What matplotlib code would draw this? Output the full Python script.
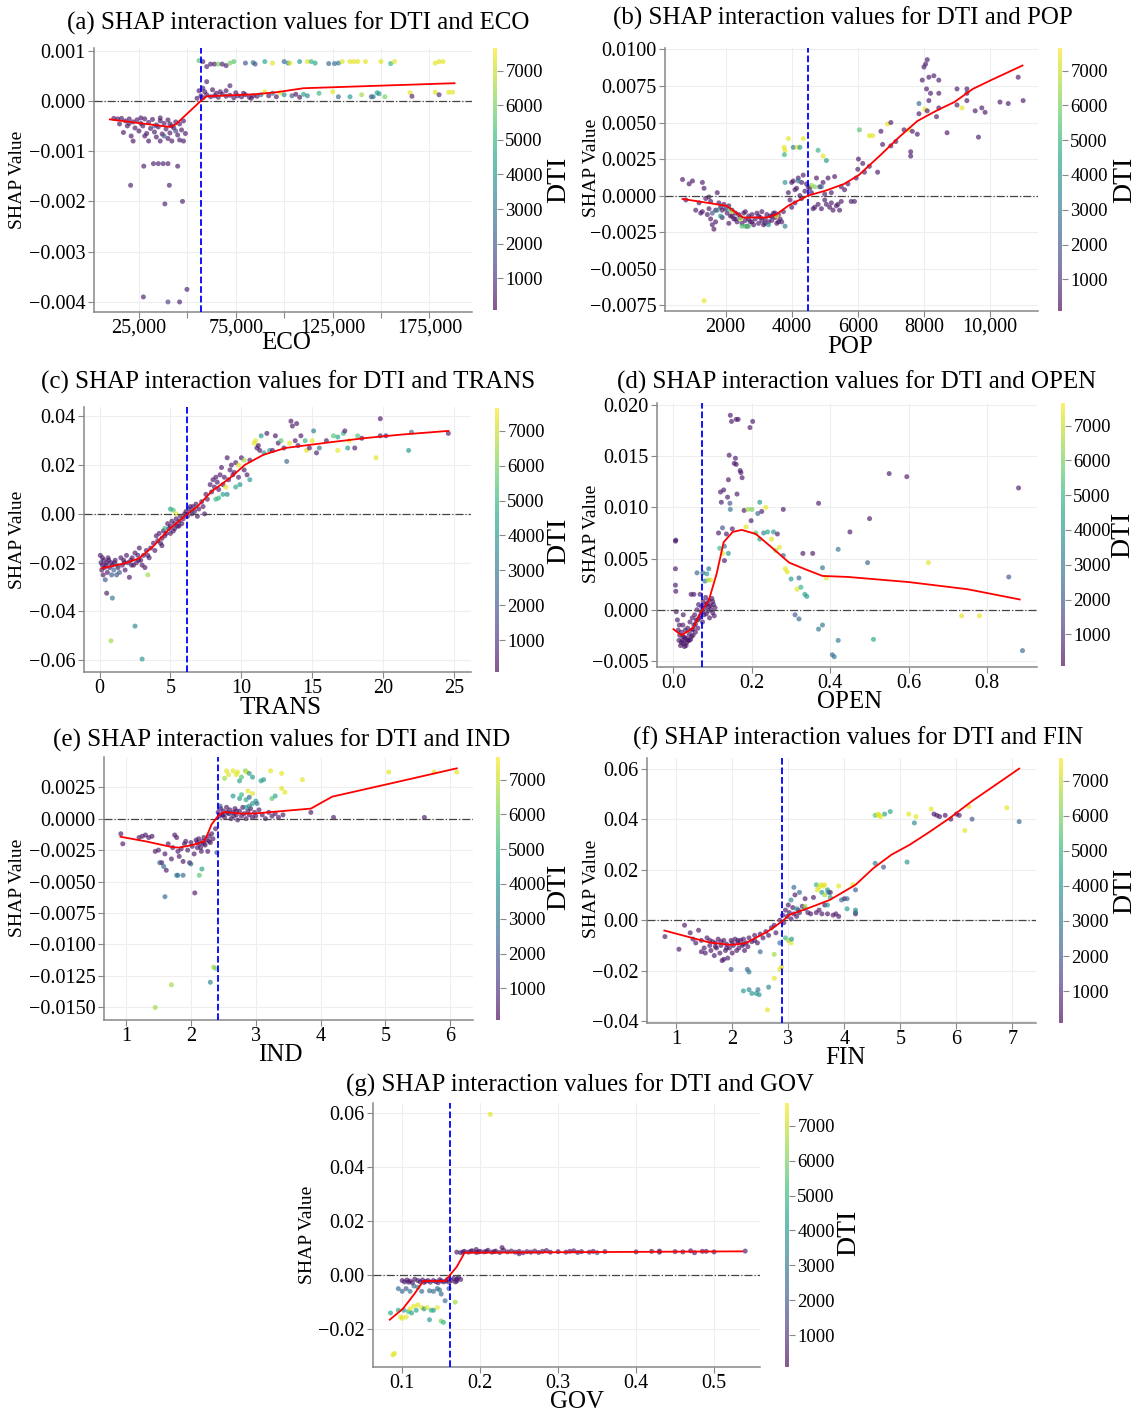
import numpy as np
import matplotlib
matplotlib.use('Agg')
import matplotlib.pyplot as plt
from matplotlib.colors import Normalize
from matplotlib.cm import ScalarMappable

plt.rcParams['font.family'] = ['Liberation Serif', 'DejaVu Serif']
plt.rcParams['axes.unicode_minus'] = True

W, H = 1139, 1415

# ---------------- datos: (valor, SHAP escalado, DTI) ----------------
# (a) ECO, SHAP en unidades de 1e-4
eco_pts = [
    (12000, -3.5, 500), (14000, -3.6, 500), (16000, -3.5, 500), (18000, -4.0, 500), (20000, -3.6, 500),
    (22000, -4.2, 500), (24000, -3.8, 500), (26000, -4.5, 500), (28000, -3.6, 500), (30000, -4.3, 500),
    (32000, -3.7, 500), (34000, -4.8, 500), (36000, -4.0, 500), (38000, -4.5, 500), (40000, -3.8, 500),
    (42000, -5.0, 500), (44000, -4.2, 500), (46000, -4.6, 500), (48000, -4.0, 500),
    (15000, -4.6, 500), (19000, -5.0, 500), (23000, -5.4, 500), (27000, -5.0, 500), (31000, -5.5, 500),
    (35000, -5.2, 500), (39000, -5.6, 500), (43000, -5.4, 500), (47000, -5.8, 500),
    (25000, -6.0, 500), (29000, -6.5, 500), (33000, -6.2, 500), (37000, -6.6, 500), (41000, -6.4, 500),
    (45000, -6.8, 500), (49000, -6.5, 500), (17000, -6.3, 500),
    (21000, -7.0, 500), (28000, -7.0, 500), (34000, -7.2, 500), (40000, -7.5, 500), (46000, -7.8, 500),
    (22000, -8.0, 500), (30000, -8.0, 500), (36000, -8.0, 500), (42000, -8.0, 500), (48000, -8.0, 500),
    (38000, -7.0, 2000), (33000, -5.0, 2500), (44000, -6.0, 1500), (20000, -4.5, 800), (26000, -3.4, 500),
    (36000, -3.4, 500), (41000, -4.6, 500),
    (27500, -13.0, 600), (32500, -12.5, 600), (35000, -12.5, 600), (37500, -12.5, 600), (40000, -12.5, 600),
    (45000, -13.0, 600), (20700, -16.8, 600), (40700, -16.8, 600), (38400, -20.5, 600), (47500, -20.0, 600),
    (49800, -37.5, 600), (27300, -39.0, 600), (40000, -40.0, 1500), (46000, -40.0, 600),
    (55000, 0.5, 500), (57000, 1.0, 500), (58000, 0.6, 500), (60000, 1.2, 500), (62000, 0.8, 500),
    (64000, 1.0, 500), (66000, 0.7, 500), (68000, 1.3, 500), (70000, 0.9, 500), (72000, 1.1, 500),
    (74000, 0.6, 500), (76000, 1.0, 500), (78000, 0.8, 500), (80000, 1.2, 500), (82000, 0.7, 500),
    (84000, 1.0, 500), (86000, 0.9, 500),
    (56000, 2.0, 500), (59000, 1.8, 500), (63000, 2.2, 500), (67000, 1.8, 500), (70000, 2.0, 500),
    (58000, 2.5, 500), (72000, 3.0, 800), (60000, 3.8, 600), (65000, 1.5, 500), (75000, 1.6, 500),
    (79000, 1.5, 500), (83000, 0.5, 500),
    (88000, 1.2, 3000), (90000, 1.8, 7300), (92000, 1.0, 500), (94000, 1.5, 2500), (96000, 0.8, 500),
    (98000, 1.6, 7300), (100000, 1.2, 3500), (104000, 1.0, 2000), (106000, 1.3, 500), (108000, 0.7, 500),
    (110000, 1.3, 4500), (112000, 1.0, 3500), (118000, 1.5, 5000), (125000, 1.8, 7300), (128000, 0.8, 2500),
    (134000, 0.8, 4000), (140000, 1.2, 6500), (145000, 0.8, 2000), (146000, 0.8, 3000), (148000, 1.6, 4500),
    (149000, 1.4, 4000), (152000, 0.8, 6000), (165000, 1.6, 7300), (166000, 0.9, 800), (178000, 1.7, 7300),
    (180000, 1.2, 800), (185000, 1.7, 7300), (187000, 1.7, 7300),
    (56000, 8.0, 5500), (58000, 7.8, 600), (60000, 6.8, 600), (62000, 7.3, 600), (64000, 7.3, 600),
    (66000, 7.3, 6000), (68000, 7.3, 600), (70000, 7.0, 600), (72000, 7.5, 6000), (74000, 7.8, 5500),
    (80000, 7.5, 2000), (84000, 7.6, 3000), (85000, 7.3, 2000), (90000, 7.8, 4500), (94000, 7.5, 7300),
    (100000, 7.8, 2500), (102000, 7.5, 3500), (103000, 7.5, 7300), (108000, 7.8, 4000), (112000, 7.8, 7300),
    (114000, 7.8, 5000), (116000, 7.5, 4500), (123000, 7.4, 2500), (126000, 7.4, 2500), (128000, 7.5, 3000),
    (130000, 7.8, 7300), (134000, 7.8, 7300), (136000, 7.8, 7300), (138000, 7.8, 7300), (142000, 7.8, 7300),
    (150000, 7.8, 7300), (155000, 7.4, 5000), (157000, 7.8, 7300), (178000, 7.5, 7300), (180000, 7.8, 7300),
    (182000, 7.8, 7300),
]
eco_trend_x = [10000, 41000, 44000, 57000, 60000, 85000, 96000, 110000, 188000]
eco_trend_y = [-3.7, -5.2, -4.7, 0.0, 0.9, 1.3, 1.7, 2.5, 3.5]

# (b) POP, SHAP en 1e-3
pop_pts = [
    (700, 1.1, 500), (800, -0.3, 500), (900, 0.8, 500), (1000, 1.0, 500), (1100, -1.0, 500),
    (1200, -0.5, 500), (1300, 0.9, 500), (1350, 0.5, 500), (1400, -0.2, 500), (1450, -1.3, 500),
    (1500, -0.9, 500), (1550, -1.6, 500), (1600, -2.0, 500), (1650, -2.3, 500), (1700, -1.0, 500),
    (1750, 0.2, 500), (1800, -0.5, 500), (1850, -0.8, 500), (1900, -1.0, 500), (1950, -0.6, 500),
    (2000, -0.9, 500), (2050, -1.2, 500), (2100, -0.7, 500), (2150, -1.4, 500), (2200, -1.0, 500),
    (2250, -1.6, 500), (2300, -1.2, 500), (2350, -1.8, 500), (2400, -1.3, 500), (2450, -1.5, 500),
    (2500, -1.9, 500), (2550, -1.2, 500), (2600, -1.7, 500), (2650, -2.1, 500), (2700, -1.4, 500),
    (2750, -1.8, 500), (2800, -1.3, 500), (2850, -2.0, 500), (2900, -1.6, 500), (2950, -1.2, 500),
    (3000, -1.9, 500), (3050, -1.5, 500), (3100, -1.1, 500), (3150, -2.0, 500), (3200, -1.6, 500),
    (3250, -1.3, 500), (3300, -1.8, 500), (3350, -1.4, 500), (3400, -1.7, 500), (3450, -1.2, 500),
    (3500, -1.5, 500), (3550, -1.9, 500), (3600, -1.3, 500), (3650, -1.6, 500), (3700, -1.8, 500),
    (3750, -1.1, 500),
    (1300, -1.1, 500), (1550, -0.4, 500), (1700, -1.8, 500), (1900, -1.5, 500), (2100, -1.9, 500),
    (2300, -1.6, 500), (2600, -1.1, 500), (2800, -1.8, 500), (3000, -1.4, 500), (3200, -1.9, 500),
    (3400, -1.4, 500), (3600, -1.8, 500), (1500, -0.1, 500), (1250, -1.2, 500), (2200, -1.4, 500),
    (2700, -1.6, 500), (3100, -1.7, 500), (3500, -1.2, 500),
    (1600, -1.2, 2000), (1750, -1.0, 3500), (1850, -1.4, 4000), (2500, -2.1, 5500), (2600, -2.1, 5500),
    (2700, -2.1, 5500), (3300, -2.0, 4000), (3800, -2.1, 3000), (2200, -1.1, 7000), (2450, -1.6, 6500),
    (2100, -0.9, 5000), (3550, -1.4, 7300),
    (3900, 0.2, 500), (3950, -0.3, 500), (4000, 0.9, 500), (4050, 1.0, 500), (4100, -0.5, 500),
    (4150, 0.5, 500), (4200, 1.2, 500), (4250, 0.0, 500), (4300, -0.2, 500), (4350, 1.4, 500),
    (4400, 0.3, 500), (4450, 0.8, 500), (4500, 0.6, 500), (4550, 0.5, 500), (4600, 0.2, 500),
    (4650, -0.9, 500), (4700, -0.8, 500), (4750, 1.2, 500), (4800, -0.6, 500), (4850, 0.6, 500),
    (4900, -0.9, 500), (4950, 0.9, 500), (5000, -0.3, 500), (5050, -0.6, 500), (5100, 1.2, 500),
    (5150, -0.8, 500), (5200, 0.2, 500), (5250, -1.0, 500), (5300, 1.3, 500), (5350, -0.7, 500),
    (5400, -0.6, 500), (5450, -1.0, 500), (5500, -0.4, 500), (5600, 0.4, 500), (5700, 0.8, 500),
    (5800, -0.4, 500), (5900, -0.4, 500), (5950, 1.2, 500), (4000, -0.8, 500), (4100, 0.4, 500),
    (4300, 0.9, 500), (5000, 0.1, 500), (5200, -0.5, 500), (5500, 0.6, 500),
    (3770, 3.3, 7300), (3800, 3.1, 7300), (3780, 2.8, 5000), (3900, 3.9, 7300), (4050, 3.3, 3000),
    (4170, 3.3, 7300), (4250, 3.3, 4000), (4350, 3.9, 7300), (4800, 3.1, 5000), (4950, 2.7, 7300),
    (5050, 2.4, 4000), (4600, 0.7, 6500), (4700, 0.6, 6000), (4900, 0.6, 3000), (3800, 0.9, 4000),
    (4200, 1.0, 3000),
    (6000, 1.8, 500), (6020, 2.5, 500), (6050, 4.5, 5500), (6150, 2.2, 500), (6200, 1.6, 500),
    (6350, 2.0, 500), (6350, 4.1, 7300), (6450, 4.1, 7300), (6600, 1.6, 500), (6700, 4.4, 500),
    (6750, 3.5, 500), (6900, 4.9, 7300), (7000, 3.4, 500), (7000, 5.0, 500), (7150, 3.7, 500),
    (7400, 4.5, 500), (7550, 4.5, 7300), (7600, 3.0, 500), (7600, 2.7, 500), (7650, 4.4, 500),
    (7800, 4.2, 500), (7850, 5.6, 500), (7850, 6.3, 2500), (7950, 7.9, 500), (8000, 8.8, 500),
    (8050, 9.0, 500), (8100, 9.3, 500), (8030, 5.9, 7300), (8080, 7.3, 500), (8100, 5.8, 500),
    (8150, 6.5, 500), (8150, 8.1, 500), (8200, 7.0, 500), (8300, 8.2, 500), (8380, 5.4, 500),
    (8450, 7.9, 500), (8450, 7.0, 500), (8450, 6.0, 500), (8700, 4.3, 500), (9000, 7.3, 500),
    (9000, 6.2, 500), (9150, 6.0, 7300), (9300, 7.3, 500), (9300, 7.0, 500), (9300, 6.5, 500),
    (9550, 5.8, 500), (9650, 4.0, 500), (9750, 6.0, 500), (9850, 5.7, 500), (10300, 6.4, 500),
    (10550, 6.3, 500), (10850, 8.1, 500), (11000, 6.5, 500), (1350, -7.2, 7300),
]
pop_trend_x = [700, 2030, 2530, 3250, 3530, 3920, 4500, 5030, 5590, 6030, 6700, 7250, 7800, 8370, 8920,
               9480, 10030, 10980]
pop_trend_y = [-0.23, -0.7, -1.5, -1.5, -1.3, -0.66, 0.0, 0.34, 0.8, 1.4, 2.8, 4.0, 5.1, 5.8, 6.4, 7.3,
               7.9, 8.9]

# (c) TRANS, SHAP en 1e-3
trans_pts = [
    (0.05, -17, 500), (0.1, -20, 500), (0.15, -23, 500), (0.2, -21, 500), (0.25, -25, 500),
    (0.3, -19, 500), (0.35, -22, 500), (0.4, -27, 2000), (0.5, -20, 500), (0.55, -24, 500),
    (0.6, -18, 500), (0.7, -22, 500), (0.8, -20, 500), (0.85, -25, 2000), (0.9, -21, 500),
    (1.0, -23, 2500), (1.1, -19, 500), (1.2, -25, 2000), (1.3, -22, 500), (1.4, -24, 2000),
    (1.5, -18, 500), (1.6, -21, 500), (1.7, -19, 500), (1.8, -23, 500), (1.9, -17, 500),
    (2.0, -20, 500), (2.1, -26, 500), (2.2, -19, 500), (2.3, -18, 500), (2.4, -21, 500),
    (2.5, -16, 500), (2.6, -20, 500), (2.7, -17, 500), (2.8, -14, 500), (2.9, -19, 500),
    (3.0, -21, 500), (3.1, -17, 500), (3.2, -22, 500), (3.3, -15, 500), (3.5, -18, 500),
    (0.2, -18, 500), (0.45, -21, 500), (0.65, -19, 500), (1.05, -20, 500), (1.25, -21, 2500),
    (1.75, -20, 500), (2.25, -21, 500), (2.75, -19, 500), (3.4, -17, 500),
    (0.5, -32.5, 500), (0.9, -34.5, 3000), (2.5, -46, 3500), (0.8, -52, 6500), (3.0, -59.5, 4000),
    (3.4, -25, 6500),
    (3.6, -14, 500), (3.8, -12, 500), (3.9, -15, 500), (4.0, -9, 500), (4.1, -11, 500),
    (4.2, -8, 500), (4.3, -12, 500), (4.4, -10, 500), (4.5, -7, 500), (4.6, -6, 5000),
    (4.7, -8, 500), (4.8, -4, 500), (4.9, -6, 500), (5.0, -5, 500), (5.1, -3, 500),
    (5.2, -7, 500), (5.3, -4, 500), (5.4, -2, 500), (5.5, -5, 500), (5.6, -3, 500),
    (5.7, -1, 500), (5.8, -4, 500), (5.9, -2, 500), (6.0, 0, 500), (6.1, 1, 500),
    (6.2, -1, 500), (6.3, 2, 500), (6.5, 0, 500), (6.6, 3, 500), (6.7, 1, 500),
    (6.8, 4, 500), (7.0, 2, 500), (7.2, 5, 500), (7.4, 0, 500), (7.5, 8, 500),
    (7.6, 6, 500), (7.8, 12, 500), (7.9, 9, 500), (8.0, 14, 500), (8.1, 11, 500),
    (8.2, 15, 500), (8.3, 13, 500), (8.4, 10, 500), (8.5, 16, 500), (8.6, 19, 500),
    (8.7, 12, 500), (8.8, 15, 500), (9.0, 23, 500), (9.1, 14, 500), (9.2, 18, 500),
    (9.3, 20, 500), (9.4, 16, 500), (9.5, 17, 500), (9.6, 21, 500), (9.8, 15, 500),
    (10.0, 23, 500), (10.2, 18, 500), (10.4, 16, 500), (10.6, 22, 500),
    (4.4, -13, 500), (4.6, -9, 500), (5.0, -8, 500), (5.3, -6, 500), (5.6, -5, 500), (6.4, 3, 500),
    (6.9, -1, 500), (7.3, 3, 500),
    (5.2, 1.5, 5500), (5.4, 0, 7300), (6.5, 1, 2500), (5.0, 2, 4500),
    (8.2, 6, 5000), (8.4, 6.5, 5000), (8.7, 8, 4500), (9.0, 8, 3500), (9.6, 11, 4500),
    (9.9, 12, 4000), (10.6, 14, 4000), (8.9, 11, 7300), (9.8, 20, 7300), (10.2, 22, 6500),
    (10.9, 29, 7300), (11.0, 30, 7300), (11.1, 27, 500), (11.2, 28, 500), (11.3, 26, 500),
    (11.4, 32, 4000), (11.6, 25, 4000), (11.8, 33, 500), (12.0, 26, 4000), (12.2, 26, 500),
    (12.4, 32, 500), (12.6, 29, 500), (12.8, 30, 5500), (13.0, 27, 500), (13.2, 21.5, 2500),
    (13.4, 29, 7300), (13.5, 38, 500), (13.6, 36, 500), (13.8, 30, 500), (13.9, 37, 500),
    (14.0, 28, 500), (14.2, 32, 500), (14.5, 30, 5000), (14.6, 26, 7300), (14.8, 27, 500),
    (15.0, 30, 7300), (15.1, 34, 3000), (15.3, 25, 500), (15.5, 27, 3000), (16.0, 30, 500),
    (16.5, 32, 5500), (16.8, 31.5, 4500), (16.8, 26, 7300), (17.2, 33, 5000), (17.3, 34, 500),
    (17.5, 27, 4000), (17.6, 30, 7300), (18.0, 27, 500), (18.2, 32, 5500), (18.5, 31, 500),
    (19.5, 23, 7300), (19.8, 32, 500), (20.2, 32, 500), (19.8, 39, 500), (21.8, 26, 4000),
    (22.0, 33.5, 3000), (24.6, 33, 500),
]
trans_trend_x = [0.15, 1.75, 2.8, 3.8, 4.85, 6.2, 6.9, 7.9, 9.2, 10.25, 11.55, 13.1, 16.2, 18.8, 21.3, 24.6]
trans_trend_y = [-22.3, -20.3, -18.2, -13.2, -6.6, 0, 3, 9.2, 14.7, 20.1, 24.2, 27, 29.3, 31.1, 32.5, 34.0]

# (d) OPEN, SHAP en 1e-3
open_pts = [
    (0.005, 6.7, 500), (0.006, 6.8, 500), (0.005, 4.0, 500), (0.005, 2.4, 500), (0.006, 1.8, 500),
    (0.007, -0.2, 500), (0.01, -1.0, 500), (0.012, -2.0, 500), (0.014, -3.0, 500), (0.016, -2.5, 500),
    (0.018, -3.5, 500), (0.02, -2.2, 500), (0.022, -3.0, 500), (0.024, -1.5, 500), (0.026, -3.3, 500),
    (0.028, -2.7, 500), (0.03, -2.0, 500), (0.032, -3.5, 500), (0.034, -2.8, 500), (0.036, -1.8, 500),
    (0.038, -3.0, 500), (0.04, -2.4, 500), (0.042, -1.2, 500), (0.044, -2.9, 500), (0.046, -2.0, 500),
    (0.048, -0.8, 500), (0.05, -2.5, 500), (0.052, -1.5, 500), (0.054, -0.5, 500), (0.056, -2.2, 500),
    (0.058, -1.0, 500), (0.06, 0.0, 500), (0.062, -1.8, 500), (0.064, 0.5, 500), (0.066, -0.8, 500),
    (0.068, 1.5, 500), (0.07, -0.2, 500), (0.072, 0.3, 500), (0.074, -1.2, 500), (0.076, 0.8, 500),
    (0.078, -0.5, 500), (0.08, 0.2, 500), (0.082, 1.2, 500), (0.084, -0.4, 500), (0.086, 0.6, 500),
    (0.088, -0.1, 500), (0.09, 0.9, 500), (0.092, -0.8, 500), (0.094, 0.4, 500), (0.096, 0.0, 500),
    (0.098, 1.1, 500), (0.1, -0.3, 500), (0.102, 0.5, 500), (0.104, -0.6, 500), (0.106, 0.2, 500),
    (0.025, -0.5, 500), (0.015, -1.5, 500), (0.045, 1.5, 500), (0.052, 1.5, 500),
    (0.02, -3.2, 500), (0.028, -3.6, 500), (0.034, -3.2, 500), (0.04, -3.0, 500), (0.046, -2.6, 500),
    (0.03, -2.9, 500), (0.024, -2.6, 500), (0.05, -1.9, 500), (0.056, -1.4, 500), (0.062, -1.0, 500),
    (0.068, -0.6, 500), (0.074, -0.2, 500), (0.082, 0.5, 500), (0.09, 0.3, 500), (0.1, 0.8, 500),
    (0.06, 3.6, 2500), (0.075, 3.6, 2500), (0.08, 2.8, 3000), (0.085, 3.5, 4000), (0.09, 4.0, 3000),
    (0.095, 2.9, 7300), (0.088, 2.9, 6500),
    (0.115, 7.5, 500), (0.118, 6.0, 5000), (0.12, 11.5, 500), (0.122, 10.5, 500), (0.125, 8.0, 2000),
    (0.125, 5.5, 7300), (0.128, 11.7, 500), (0.13, 6.2, 3000), (0.13, 4.8, 500), (0.135, 7.4, 500),
    (0.138, 11.0, 500), (0.14, 5.5, 4000), (0.14, 12.7, 500), (0.142, 15.1, 500), (0.144, 10.4, 2000),
    (0.145, 9.8, 3000), (0.145, 19.0, 500), (0.148, 18.4, 500), (0.15, 7.9, 500), (0.155, 14.3, 500),
    (0.158, 14.8, 500), (0.16, 14.2, 500), (0.16, 18.6, 500), (0.162, 11.3, 500), (0.165, 18.6, 500),
    (0.17, 13.6, 500), (0.172, 13.4, 500), (0.175, 12.9, 500), (0.18, 9.7, 500), (0.185, 8.1, 7300),
    (0.19, 9.8, 6500), (0.195, 17.8, 500), (0.198, 8.7, 500), (0.2, 9.8, 6000), (0.202, 18.4, 500),
    (0.21, 7.5, 5500), (0.215, 9.4, 2500), (0.22, 10.5, 4000), (0.22, 6.9, 4500), (0.225, 9.6, 500),
    (0.23, 7.5, 3500), (0.235, 10.0, 7300), (0.24, 7.6, 4500), (0.25, 6.9, 7300), (0.255, 7.6, 4000),
    (0.26, 5.8, 6500), (0.265, 7.4, 500), (0.27, 6.1, 7300), (0.28, 9.8, 500), (0.28, 5.3, 2500),
    (0.285, 4.0, 7300), (0.29, 3.7, 7300), (0.3, 3.0, 4000), (0.31, -0.5, 2000), (0.315, 2.0, 7300),
    (0.32, -0.9, 2500), (0.32, 3.1, 2500), (0.325, 2.2, 5000), (0.33, 5.5, 500), (0.335, 1.5, 4500),
    (0.34, 1.3, 4000), (0.355, 5.5, 500), (0.37, -1.9, 3000), (0.37, 10.4, 500), (0.38, -1.5, 3000),
    (0.38, 4.1, 3000), (0.39, 3.1, 7300), (0.405, -4.4, 2500), (0.41, -4.6, 3000), (0.42, -3.0, 3000),
    (0.42, 5.9, 3000), (0.45, 7.6, 500), (0.495, 4.6, 2500), (0.5, 8.9, 500), (0.51, -2.9, 4500),
    (0.55, 13.3, 500), (0.595, 13.0, 500), (0.65, 4.6, 7300), (0.735, -0.6, 7300), (0.78, -0.6, 7300),
    (0.855, 3.2, 2000), (0.88, 11.9, 500), (0.89, -4.0, 2500),
]
open_trend_x = [0.0, 0.02, 0.05, 0.072, 0.09, 0.11, 0.128, 0.151, 0.174, 0.21, 0.25, 0.295, 0.333, 0.38,
                0.445, 0.6, 0.75, 0.883]
open_trend_y = [-1.9, -2.5, -1.8, -0.1, 0.9, 3.5, 6.6, 7.6, 7.8, 7.4, 6.1, 4.6, 4.0, 3.3, 3.2, 2.7, 2.0, 1.0]

# (e) IND, SHAP en 1e-3
ind_pts = [
    (0.92, -1.2, 500), (0.95, -2.0, 500), (1.2, -1.5, 500), (1.25, -1.4, 500), (1.3, -1.3, 500),
    (1.35, -1.5, 500), (1.4, -1.4, 500), (1.45, -2.6, 500), (1.5, -2.5, 500), (1.55, -3.5, 500),
    (1.6, -2.8, 500), (1.65, -2.0, 500), (1.7, -3.2, 500), (1.72, -2.3, 500), (1.75, -1.3, 500),
    (1.78, -1.5, 500), (1.8, -2.6, 500), (1.82, -3.0, 500), (1.85, -2.4, 500), (1.88, -3.4, 500),
    (1.9, -2.0, 500), (1.92, -1.8, 500), (1.95, -2.5, 500), (1.98, -3.5, 500), (2.0, -1.9, 500),
    (2.02, -2.2, 500), (2.05, -2.8, 500), (2.08, -1.7, 500), (2.1, -2.3, 500), (2.12, -1.6, 500),
    (2.14, -2.0, 500), (2.16, -2.6, 500), (2.18, -1.8, 500), (2.2, -1.5, 500), (2.22, -2.1, 500),
    (2.24, -1.7, 500), (2.26, -2.6, 500), (2.28, -1.4, 500), (2.3, -1.9, 500), (2.32, -1.2, 500),
    (2.34, -1.6, 500), (2.1, -1.9, 500), (2.2, -2.0, 500), (2.28, -1.8, 500), (2.15, -2.3, 500),
    (1.62, -4.1, 500), (1.58, -3.8, 2500), (1.52, -3.5, 2000), (1.6, -6.2, 2500), (1.78, -4.5, 3000),
    (1.8, -4.5, 3000), (1.88, -4.5, 2500), (2.06, -5.9, 500), (2.13, -4.5, 5500), (2.17, -4.0, 4500),
    (2.0, -3.6, 2500), (2.35, -11.8, 6500), (2.38, -11.9, 6000), (2.3, -13.0, 3500), (1.7, -13.2, 6500),
    (1.45, -15.0, 6500), (2.4, -2.7, 2000), (2.38, -0.8, 500),
    (2.42, 0.5, 500), (2.44, 0.2, 500), (2.46, 0.8, 500), (2.48, 0.3, 500), (2.5, 0.6, 500),
    (2.52, 0.1, 500), (2.55, 0.9, 500), (2.58, 0.4, 500), (2.6, 0.7, 500), (2.62, 0.0, 500),
    (2.65, 0.5, 500), (2.68, 0.8, 500), (2.7, 0.3, 500), (2.72, -0.1, 500), (2.75, 0.6, 500),
    (2.78, 0.2, 500), (2.8, 0.9, 500), (2.82, 0.4, 500), (2.85, 0.0, 500), (2.88, 0.6, 500),
    (2.9, 0.3, 500), (2.92, 0.8, 500), (2.95, 0.1, 500), (2.98, 0.5, 500), (3.0, 0.2, 500),
    (3.05, 0.7, 500), (3.1, 0.3, 500), (3.15, 0.0, 500), (3.2, 0.5, 500), (3.25, 0.2, 500),
    (3.3, 0.4, 500), (3.35, 0.1, 500), (3.42, 0.3, 500), (3.85, 0.5, 500), (4.2, 0.1, 500),
    (5.6, 0.1, 500), (2.45, 1.0, 2000), (2.6, 0.4, 2500), (2.5, 0.3, 500), (2.7, 0.6, 500),
    (2.56, 0.5, 500), (2.66, 0.2, 500),
    (2.52, 3.2, 6500), (2.55, 3.8, 7300), (2.58, 3.5, 7300), (2.65, 3.8, 7300), (2.7, 3.5, 7300),
    (2.72, 3.7, 7300), (2.75, 3.0, 4500), (2.78, 3.3, 5500), (2.84, 3.8, 6000), (2.86, 3.7, 7300),
    (2.9, 3.6, 4000), (2.95, 3.3, 4000), (3.08, 3.0, 4500), (3.12, 3.1, 4000), (3.23, 3.8, 7300),
    (3.4, 3.6, 7300), (3.72, 3.1, 7300), (2.65, 1.8, 4000), (2.75, 1.6, 4000), (2.78, 1.9, 5000),
    (2.85, 1.5, 4500), (2.88, 2.2, 7300), (2.9, 1.7, 2500), (2.95, 2.0, 7300), (2.95, 1.2, 4000),
    (3.0, 1.4, 4000), (3.02, 1.2, 3000), (3.25, 1.6, 5500), (3.3, 1.8, 4500), (3.4, 2.4, 7300),
    (3.45, 2.1, 7300), (2.9, 1.0, 3500), (2.85, 0.9, 4000), (5.05, 3.7, 7300), (5.75, 3.7, 7300),
    (6.1, 3.7, 7300),
]
ind_trend_x = [0.915, 1.3, 1.71, 1.82, 2.02, 2.21, 2.32, 2.44, 2.52, 2.77, 3.0, 3.85, 4.18, 5.03, 6.1]
ind_trend_y = [-1.44, -1.8, -2.26, -2.3, -2.1, -1.8, -0.45, 0.35, 0.53, 0.4, 0.42, 0.8, 1.75, 2.74, 4.0]

# (f) FIN, SHAP en 1e-3
fin_pts = [
    (0.8, -6.5, 500), (1.05, -11.5, 500), (1.15, -2, 500), (1.25, -5, 500), (1.3, -7.5, 500),
    (1.35, -9, 500), (1.4, -4, 500), (1.45, -8, 500), (1.5, -11, 500), (1.52, -13, 500),
    (1.55, -7, 500), (1.6, -10, 500), (1.62, -12, 500), (1.65, -8.5, 500), (1.68, -14, 500),
    (1.7, -9, 500), (1.72, -11, 500), (1.75, -7.5, 500), (1.78, -13, 500), (1.8, -10, 500),
    (1.82, -16, 500), (1.85, -8, 500), (1.88, -12, 500), (1.9, -9.5, 500), (1.92, -15, 500),
    (1.95, -11, 500), (1.98, -8, 500), (2.0, -13, 500), (2.02, -10, 500), (2.05, -7.5, 500),
    (2.08, -12, 500), (2.1, -9, 500), (2.12, -11, 500), (2.15, -8, 500), (2.18, -10, 500),
    (2.2, -7.5, 500), (2.22, -12, 500), (2.25, -9, 500), (2.28, -10.5, 500), (2.3, -7, 500),
    (2.35, -8.5, 500), (2.4, -6, 500), (2.45, -9, 500), (2.5, -5.5, 500), (2.55, -7, 500),
    (2.6, -4.5, 500), (2.65, -6, 500), (2.7, -3, 500), (2.75, -2, 500), (2.78, -5, 500),
    (1.6, -8, 500), (1.7, -10.5, 500), (1.8, -8.5, 500), (1.9, -11, 500), (2.0, -9, 500),
    (2.1, -8, 500), (2.2, -9.5, 500), (2.4, -8, 500), (1.85, -15.5, 500), (1.45, -12.5, 500),
    (1.98, -19.5, 2000), (2.27, -19.5, 2500), (2.3, -20.5, 3000), (2.2, -28, 4000), (2.3, -27.5, 3500),
    (2.35, -29, 4000), (2.43, -29, 4000), (2.46, -27.5, 3000), (2.48, -29.5, 4000), (2.65, -26.5, 3500),
    (2.63, -35.5, 7300), (2.75, -23, 7300), (2.75, -13.5, 6500), (2.85, -19.5, 7300), (2.88, -18.5, 7300),
    (2.5, -12.5, 2500), (2.95, -7, 5000), (3.0, -8, 6500), (3.05, -9, 7300), (3.06, -7.5, 4000),
    (2.85, -9, 3000),
    (2.85, 0, 500), (2.9, 2, 500), (2.92, -1, 500), (2.95, 4, 500), (2.98, 1.5, 500),
    (3.0, 6, 500), (3.02, 3, 500), (3.05, 0.5, 500), (3.08, 5, 500), (3.1, 2.5, 500),
    (3.12, 10, 500), (3.15, 1.5, 500), (3.18, 4, 500), (3.2, 3, 500), (3.25, 5.5, 500),
    (3.3, 8.5, 500), (3.35, 3, 500), (3.4, 2.5, 500), (3.45, 9, 500), (3.5, 3, 500),
    (3.55, 4, 500), (3.6, 2.5, 500), (3.65, 6, 500), (3.7, 2.5, 500), (3.75, 11, 500),
    (3.8, 2, 500), (3.85, 2.5, 500), (3.9, 1.5, 500), (4.0, 8.5, 500), (4.2, 2.5, 500),
    (3.1, 13, 2500), (3.05, 8, 3500), (3.2, 11, 2500), (3.15, 4.5, 3500), (3.3, 4.5, 2500),
    (3.5, 14, 5000), (3.52, 12, 7300), (3.55, 13, 7300), (3.58, 14, 7300), (3.62, 13.5, 7300),
    (3.65, 14, 7300), (3.6, 11, 4000), (3.65, 10, 6500), (3.7, 12, 4000), (3.72, 11, 2500),
    (3.75, 9, 4500), (3.7, 6, 4000), (3.9, 13.5, 7300), (3.95, 8, 2500), (4.05, 8.5, 2500),
    (4.05, 4.5, 4000), (4.2, 4, 3500), (4.2, 12, 2000), (4.15, 14, 7300), (4.2, 3, 3000),
    (3.3, 5.5, 6500),
    (4.55, 22.5, 3000), (4.55, 41.5, 5500), (4.6, 42, 7300), (4.62, 41.5, 7300), (4.65, 41, 7300),
    (4.72, 42, 4500), (4.82, 43, 4500), (4.7, 21, 2000), (5.12, 23, 4000), (5.15, 42, 7300),
    (5.25, 38.5, 3500), (5.28, 41, 7300), (5.55, 44, 7300), (5.6, 42, 500), (5.65, 41.5, 500),
    (5.7, 41, 500), (5.8, 41.5, 500), (5.9, 40, 500), (6.0, 42, 500), (6.05, 41.5, 500),
    (6.15, 35.5, 7300), (6.22, 45, 7300), (6.28, 40, 2000), (6.9, 44.5, 7300), (7.12, 39, 2500),
]
fin_trend_x = [0.79, 1.59, 1.98, 2.24, 2.63, 2.89, 3.02, 3.35, 3.74, 4.2, 4.52, 4.84, 5.17, 5.49, 5.88, 6.27, 7.12]
fin_trend_y = [-4.1, -8.8, -9.8, -9.1, -4.5, -0.5, 2.1, 4.7, 8.0, 14.0, 20.6, 25.9, 29.9, 34.5, 40.4, 47.0, 60.0]

# (g) GOV, SHAP en 1e-3
gov_pts = [
    (0.1, -2, 500), (0.103, -2.5, 500), (0.106, -1.8, 500), (0.11, -2.2, 500), (0.113, -2.8, 500),
    (0.116, -1.5, 500), (0.12, -2.0, 500), (0.123, -2.5, 500), (0.126, -1.8, 500), (0.13, -2.3, 500),
    (0.133, -2.0, 500), (0.136, -2.6, 500), (0.14, -2.0, 500), (0.143, -2.4, 500), (0.146, -2.8, 500),
    (0.15, -2.1, 500), (0.153, -2.5, 500), (0.156, -2.2, 500), (0.16, -2.6, 500), (0.163, -2.0, 500),
    (0.166, -1.2, 500), (0.168, -2.5, 500), (0.17, -1.5, 500), (0.172, -0.8, 500), (0.175, -1.6, 500),
    (0.17, -2.2, 500), (0.108, -2.6, 500), (0.128, -2.7, 500), (0.148, -1.7, 500), (0.158, -1.6, 500),
    (0.095, -5, 2500), (0.1, -6, 2500), (0.105, -5, 2000), (0.11, -6, 3000), (0.115, -4, 2500),
    (0.12, -4.5, 3000), (0.125, -6, 2500), (0.14, -6, 2500), (0.145, -5, 2500), (0.15, -7, 2500),
    (0.155, -9.5, 2500), (0.16, -5, 2000), (0.148, -5.5, 3000), (0.135, -5.8, 2500),
    (0.085, -14, 4500), (0.095, -13, 4500), (0.098, -15.5, 7300), (0.1, -16, 7300), (0.102, -13, 4000),
    (0.105, -15.5, 7300), (0.108, -13.5, 5000), (0.11, -12.5, 7300), (0.112, -14, 4500), (0.115, -11.5, 7300),
    (0.118, -13, 4500), (0.12, -11, 7300), (0.125, -12, 7300), (0.128, -12.5, 4000), (0.132, -12, 7300),
    (0.135, -16.5, 4000), (0.14, -13, 4000), (0.145, -12, 7300), (0.15, -17, 6000), (0.153, -17.5, 5000),
    (0.168, -10, 6500), (0.137, -13, 5000), (0.088, -29.5, 7300), (0.09, -29, 7300), (0.213, 59.5, 7300),
    (0.17, 8.5, 500), (0.175, 8.3, 500), (0.18, 8.8, 500), (0.185, 8.5, 500), (0.19, 9.0, 500),
    (0.195, 8.4, 500), (0.2, 8.8, 500), (0.205, 8.6, 500), (0.21, 9.2, 500), (0.215, 8.5, 500),
    (0.22, 8.9, 500), (0.225, 8.4, 500), (0.23, 9.3, 500), (0.235, 8.6, 500), (0.24, 8.9, 500),
    (0.245, 8.5, 500), (0.25, 8.8, 500), (0.255, 8.3, 500), (0.26, 8.7, 500), (0.265, 8.5, 500),
    (0.27, 8.9, 500), (0.275, 8.4, 500), (0.28, 8.8, 500), (0.285, 9.1, 500), (0.29, 8.5, 500),
    (0.3, 8.7, 500), (0.31, 8.5, 500), (0.315, 8.8, 500), (0.32, 9.0, 500), (0.325, 8.4, 500),
    (0.33, 8.7, 500), (0.34, 8.5, 500), (0.345, 8.8, 500), (0.35, 8.3, 1500), (0.36, 8.7, 500),
    (0.4, 8.6, 500), (0.42, 8.8, 500), (0.43, 8.5, 500), (0.43, 8.9, 500), (0.45, 8.7, 500),
    (0.46, 8.6, 500), (0.47, 9.0, 500), (0.475, 8.3, 500), (0.485, 8.8, 500), (0.49, 8.8, 500),
    (0.5, 8.6, 500), (0.54, 8.9, 500), (0.228, 10.2, 500), (0.25, 7.9, 500), (0.195, 9.5, 500),
    (0.178, 8.6, 500), (0.188, 8.9, 500), (0.198, 8.6, 500), (0.208, 8.8, 500), (0.218, 8.7, 500),
]
gov_trend_x = [0.084, 0.101, 0.116, 0.127, 0.14, 0.155, 0.16, 0.17, 0.18, 0.536]
gov_trend_y = [-16.5, -12.4, -6.8, -2.2, -2.2, -2.2, -0.4, 3.1, 8.3, 8.8]

# ---------------- configuración de paneles (posiciones en px) ----------------
paneles = [
    dict(pts=eco_pts, esc=1e-4, tx=eco_trend_x, ty=eco_trend_y, umbral=57000, var='ECO', letra='a',
         ax=(94, 48, 472, 312), cb=(493, 48, 497, 310), xlim=(1800, 197000), ylim=(-0.0042, 0.00105),
         xt=[25000, 50000, 75000, 100000, 125000, 150000, 175000],
         xtl=['25,000', '', '75,000', '', '125,000', '', '175,000'],
         yt=[-0.004, -0.003, -0.002, -0.001, 0.0, 0.001], dec=3,
         tit=(298, 23), xl=(286, 343), yl=(18, 180), dl=(559, 180)),
    dict(pts=pop_pts, esc=1e-3, tx=pop_trend_x, ty=pop_trend_y, umbral=4500, var='POP', letra='b',
         ax=(665, 48, 1038, 311), cb=(1058, 48, 1062, 311), xlim=(170, 11450), ylim=(-0.0079, 0.0101),
         xt=[2000, 4000, 6000, 8000, 10000], xtl=['2000', '4000', '6000', '8000', '10,000'],
         yt=[-0.0075, -0.005, -0.0025, 0.0, 0.0025, 0.005, 0.0075, 0.01], dec=4,
         tit=(843, 18), xl=(850, 347), yl=(592, 168), dl=(1125, 180)),
    dict(pts=trans_pts, esc=1e-3, tx=trans_trend_x, ty=trans_trend_y, umbral=6.2, var='TRANS', letra='c',
         ax=(84, 407, 471, 672), cb=(495, 408, 499, 672), xlim=(-1.1, 26.2), ylim=(-0.0648, 0.0438),
         xt=[0, 5, 10, 15, 20, 25], xtl=['0', '5', '10', '15', '20', '25'],
         yt=[-0.06, -0.04, -0.02, 0.0, 0.02, 0.04], dec=2,
         tit=(288, 382), xl=(280, 708), yl=(18, 540), dl=(559, 541)),
    dict(pts=open_pts, esc=1e-3, tx=open_trend_x, ty=open_trend_y, umbral=0.0736, var='OPEN', letra='d',
         ax=(657, 403, 1037, 667), cb=(1061, 403, 1065, 666), xlim=(-0.042, 0.927), ylim=(-0.0056, 0.0202),
         xt=[0.0, 0.2, 0.4, 0.6, 0.8], xtl=['0.0', '0.2', '0.4', '0.6', '0.8'],
         yt=[-0.005, 0.0, 0.005, 0.01, 0.015, 0.02], dec=3,
         tit=(857, 382), xl=(850, 702), yl=(592, 534), dl=(1123, 535)),
    dict(pts=ind_pts, esc=1e-3, tx=ind_trend_x, ty=ind_trend_y, umbral=2.42, var='IND', letra='e',
         ax=(104, 757, 473, 1020), cb=(496, 757, 500, 1020), xlim=(0.66, 6.35), ylim=(-0.016, 0.0049),
         xt=[1, 2, 3, 4, 5, 6], xtl=['1', '2', '3', '4', '5', '6'],
         yt=[-0.015, -0.0125, -0.01, -0.0075, -0.005, -0.0025, 0.0, 0.0025], dec=4,
         tit=(282, 740), xl=(280, 1055), yl=(18, 888), dl=(559, 887)),
    dict(pts=fin_pts, esc=1e-3, tx=fin_trend_x, ty=fin_trend_y, umbral=2.89, var='FIN', letra='f',
         ax=(647, 758, 1036, 1023), cb=(1059, 758, 1063, 1023), xlim=(0.48, 7.42), ylim=(-0.0407, 0.0642),
         xt=[1, 2, 3, 4, 5, 6, 7], xtl=['1', '2', '3', '4', '5', '6', '7'],
         yt=[-0.04, -0.02, 0.0, 0.02, 0.04, 0.06], dec=2,
         tit=(858, 738), xl=(845, 1058), yl=(592, 889), dl=(1125, 891)),
    dict(pts=gov_pts, esc=1e-3, tx=gov_trend_x, ty=gov_trend_y, umbral=0.161, var='GOV', letra='g',
         ax=(373, 1103, 760, 1367), cb=(785, 1103, 789, 1367), xlim=(0.0625, 0.559), ylim=(-0.034, 0.0637),
         xt=[0.1, 0.2, 0.3, 0.4, 0.5], xtl=['0.1', '0.2', '0.3', '0.4', '0.5'],
         yt=[-0.02, 0.0, 0.02, 0.04, 0.06], dec=2,
         tit=(580, 1085), xl=(577, 1402), yl=(307, 1235), dl=(849, 1233)),
]

norm = Normalize(vmin=90, vmax=7650)
cmap = plt.get_cmap('viridis')


def rect_px(l, t, r, b):
    return [l / W, 1 - b / H, (r - l) / W, (b - t) / H]


def fig_xy(x, y):
    return x / W, 1 - y / H


def fmt_y(v, dec):
    s = f'{v:.{dec}f}'
    if v < 0:
        s = '\u2212' + s[1:]
    return s


fig = plt.figure(figsize=(W / 100, H / 100), dpi=100, facecolor='white')

for p in paneles:
    ax = fig.add_axes(rect_px(*p['ax']))
    xs = np.array([q[0] for q in p['pts']])
    ys = np.array([q[1] for q in p['pts']]) * p['esc']
    cs = np.array([q[2] for q in p['pts']])
    ax.scatter(xs, ys, c=cs, cmap=cmap, norm=norm, s=13, alpha=0.65, linewidths=0, zorder=2)
    ax.plot(p['tx'], np.array(p['ty']) * p['esc'], color='red', lw=1.3, zorder=4)
    ax.axhline(0, color='#444444', ls='-.', lw=0.9, zorder=3)
    ax.axvline(p['umbral'], color='blue', ls='--', lw=1.3, zorder=3)

    ax.set_xlim(*p['xlim'])
    ax.set_ylim(*p['ylim'])
    ax.set_xticks(p['xt'])
    ax.set_xticklabels(p['xtl'])
    ax.set_yticks(p['yt'])
    ax.set_yticklabels([fmt_y(v, p['dec']) for v in p['yt']])
    ax.tick_params(labelsize=14.5, length=4, color='#888888', pad=2)
    ax.tick_params(axis='x', pad=1)
    ax.grid(True, color='#eeeeee', lw=0.8, zorder=0)
    ax.set_axisbelow(True)
    for lado in ['top', 'right']:
        ax.spines[lado].set_visible(False)
    for lado in ['left', 'bottom']:
        ax.spines[lado].set_color('#888888')
        ax.spines[lado].set_linewidth(1.1)

    # barra de color DTI
    cax = fig.add_axes(rect_px(*p['cb']))
    sm = ScalarMappable(norm=norm, cmap=cmap)
    cb = fig.colorbar(sm, cax=cax)
    cb.solids.set_alpha(0.65)
    cb.outline.set_visible(False)
    cb.set_ticks([1000, 2000, 3000, 4000, 5000, 6000, 7000])
    cb.ax.tick_params(labelsize=13.5, length=4, color='#888888', pad=2)

    # textos
    tx, ty = fig_xy(*p['tit'])
    fig.text(tx, ty, f"({p['letra']}) SHAP interaction values for DTI and {p['var']}",
             ha='center', va='center', fontsize=18)
    tx, ty = fig_xy(*p['xl'])
    fig.text(tx, ty, p['var'], ha='center', va='center', fontsize=18)
    tx, ty = fig_xy(*p['yl'])
    fig.text(tx, ty, 'SHAP Value', ha='center', va='center', rotation=90, fontsize=14)
    tx, ty = fig_xy(*p['dl'])
    fig.text(tx, ty, 'DTI', ha='center', va='center', rotation=90, fontsize=20)

fig.savefig('out.png', dpi=100, facecolor='white')
